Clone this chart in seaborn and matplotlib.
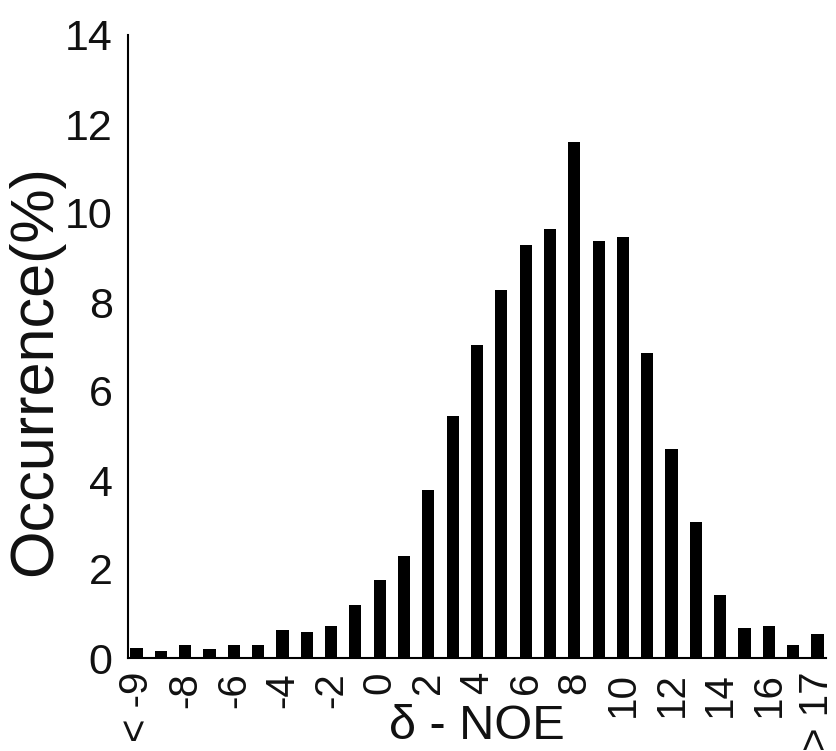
import numpy as np
import matplotlib
matplotlib.use("Agg")
import matplotlib.pyplot as plt
import seaborn as sns

categories = ["< -9", "-9", "-8", "-7", "-6", "-5", "-4", "-3", "-2", "-1",
              "0", "1", "2", "3", "4", "5", "6", "7", "8", "9", "10",
              "11", "12", "13", "14", "15", "16", "17", "> 17"]
values = [0.22, 0.16, 0.30, 0.21, 0.30, 0.30, 0.63, 0.59, 0.72, 1.19,
          1.75, 2.29, 3.77, 5.43, 7.04, 8.28, 9.27, 9.64, 11.6, 9.36, 9.45,
          6.86, 4.69, 3.06, 1.42, 0.67, 0.72, 0.29, 0.53]
shown_labels = ["< -9", "-8", "-6", "-4", "-2", "0", "2", "4", "6", "8",
                "10", "12", "14", "16", "> 17"]
y_ticks = [0, 2, 4, 6, 8, 10, 12, 14]

sns.set_style("white")
plt.rcParams['font.family'] = ['Liberation Sans', 'DejaVu Sans']

fig = plt.figure(figsize=(8.36, 7.51), dpi=100)
ax = fig.add_axes([128/836, 1-658/751, (826-128)/836, (658-35)/751])

sns.barplot(x=categories, y=values, color="black", width=0.5,
            saturation=1, ax=ax, edgecolor="none")

ax.set_xlim(-0.35, len(categories) - 0.65)
ax.set_ylim(0, 14)
ax.set_yticks(y_ticks)
ax.set_yticklabels([str(t) for t in y_ticks])

pos = [categories.index(l) for l in shown_labels]
ax.set_xticks(pos)
ax.set_xticklabels(shown_labels, rotation=90)
ax.set_xticks(np.arange(0.5, len(categories) - 1, 1), minor=True)

for s in ["top", "right"]:
    ax.spines[s].set_visible(False)
for s in ["left", "bottom"]:
    ax.spines[s].set_color("black")
    ax.spines[s].set_linewidth(1.5)

ax.tick_params(axis="x", which="major", length=0, pad=10, labelsize=29,
               labelcolor="#111111")
ax.tick_params(axis="x", which="minor", direction="in", length=4,
               width=1, color="#888888")
ax.tick_params(axis="y", which="major", direction="in", length=4.5,
               width=1, color="#888888", pad=11, labelsize=31,
               labelcolor="#111111")

ax.set_ylabel("Occurrence(%)", fontsize=44, color="#111111")
ax.yaxis.set_label_coords((36 - 128) / 698, 0.462)
ax.yaxis.label.set_rotation_mode("default")
ax.yaxis.label.set_ha("center")
ax.yaxis.label.set_va("center")

ax.set_xlabel("δ - NOE", fontsize=35, color="#111111")
ax.xaxis.set_label_coords(0.5, -0.13)
ax.xaxis.label.set_va("baseline")

fig.savefig("out.png", dpi=100)
